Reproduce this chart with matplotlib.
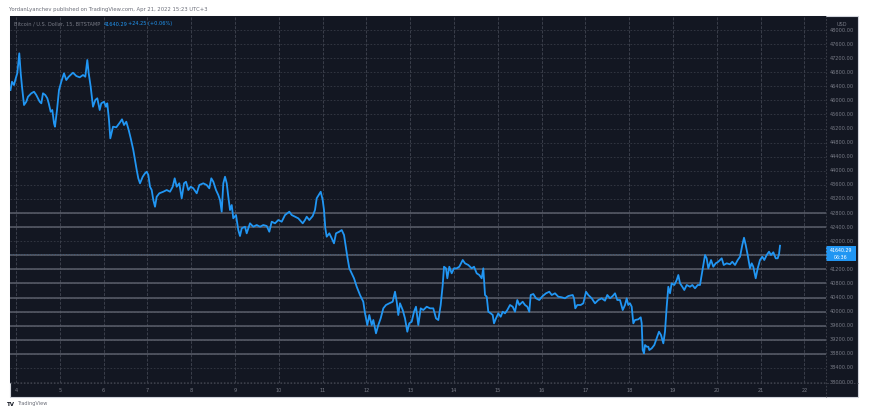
import matplotlib.pyplot as plt
from matplotlib.patches import Rectangle
from matplotlib.transforms import blended_transform_factory

# BTC/USD 15m, Bitstamp, Apr 3 - Apr 21 2022
days = [3.874, 3.909, 3.954, 3.984, 4.030, 4.075, 4.107, 4.137, 4.183, 4.235,
        4.274, 4.349, 4.411, 4.463, 4.541, 4.578, 4.616, 4.669, 4.715, 4.747,
        4.792, 4.829, 4.868, 4.890, 4.936, 4.982, 5.034, 5.096, 5.148, 5.203,
        5.301, 5.377, 5.454, 5.530, 5.582, 5.628, 5.660, 5.705, 5.758, 5.811,
        5.856, 5.911, 5.947, 6.009, 6.055, 6.084, 6.123, 6.153, 6.215, 6.290,
        6.368, 6.420, 6.466, 6.518, 6.573, 6.619, 6.678, 6.717, 6.756, 6.792,
        6.831, 6.893, 6.945, 6.984, 7.021, 7.059, 7.098, 7.135, 7.174, 7.212,
        7.272, 7.363, 7.441, 7.516, 7.578, 7.623, 7.669, 7.728, 7.783, 7.836,
        7.881, 7.934, 7.989, 8.048, 8.126, 8.185, 8.276, 8.354, 8.413, 8.459,
        8.505, 8.566, 8.619, 8.658, 8.696, 8.733, 8.772, 8.811, 8.847, 8.886,
        8.925, 8.961, 9.023, 9.075, 9.114, 9.153, 9.228, 9.267, 9.342, 9.418,
        9.495, 9.571, 9.646, 9.724, 9.783, 9.838, 9.913, 9.989, 10.066, 10.142,
        10.240, 10.295, 10.370, 10.445, 10.546, 10.598, 10.637, 10.696, 10.774, 10.826,
        10.865, 10.957, 11.002, 11.032, 11.062, 11.094, 11.153, 11.208, 11.260, 11.306,
        11.381, 11.436, 11.489, 11.534, 11.564, 11.610, 11.664, 11.717, 11.779, 11.854,
        11.929, 11.968, 12.021, 12.066, 12.121, 12.158, 12.219, 12.272, 12.326, 12.386,
        12.447, 12.523, 12.600, 12.653, 12.692, 12.728, 12.767, 12.829, 12.881, 12.934,
        12.979, 13.034, 13.087, 13.132, 13.185, 13.240, 13.299, 13.377, 13.452, 13.527,
        13.589, 13.642, 13.696, 13.742, 13.772, 13.817, 13.847, 13.893, 13.947, 14.000,
        14.062, 14.121, 14.199, 14.251, 14.327, 14.404, 14.457, 14.518, 14.578, 14.632,
        14.669, 14.708, 14.747, 14.783, 14.838, 14.884, 14.913, 14.959, 15.011, 15.066,
        15.112, 15.164, 15.217, 15.279, 15.340, 15.393, 15.445, 15.491, 15.568, 15.621,
        15.674, 15.719, 15.751, 15.811, 15.872, 15.947, 16.025, 16.100, 16.176, 16.231,
        16.306, 16.381, 16.459, 16.534, 16.610, 16.710, 16.740, 16.769, 16.815, 16.893,
        16.952, 17.014, 17.066, 17.144, 17.219, 17.295, 17.372, 17.447, 17.500, 17.562,
        17.623, 17.676, 17.728, 17.790, 17.852, 17.904, 17.943, 17.979, 18.018, 18.057,
        18.094, 18.132, 18.208, 18.263, 18.285, 18.308, 18.338, 18.361, 18.400, 18.436,
        18.459, 18.514, 18.573, 18.628, 18.680, 18.726, 18.779, 18.817, 18.856, 18.893,
        18.932, 18.970, 19.030, 19.085, 19.121, 19.160, 19.212, 19.258, 19.313, 19.388,
        19.441, 19.502, 19.564, 19.616, 19.655, 19.692, 19.731, 19.769, 19.806, 19.868,
        19.920, 19.975, 20.034, 20.112, 20.158, 20.226, 20.301, 20.354, 20.416, 20.477,
        20.530, 20.582, 20.621, 20.660, 20.705, 20.758, 20.797, 20.833, 20.888, 20.934,
        20.986, 21.039, 21.084, 21.139, 21.192, 21.237, 21.290, 21.345, 21.390, 21.420,
        21.443]
prices = [46295, 46531, 46437, 46579, 46778, 47338, 46778, 46389, 45869, 45963,
          46105, 46202, 46247, 46153, 45963, 45918, 46202, 46153, 46060, 45918,
          45679, 45727, 45349, 45253, 45727, 46295, 46531, 46770, 46579, 46673,
          46787, 46693, 46656, 46722, 46673, 47148, 46770, 46389, 45821, 46011,
          46060, 45727, 45918, 45963, 45821, 45918, 45443, 44923, 45253, 45236,
          45366, 45463, 45301, 45395, 45159, 44923, 44591, 44307, 44023, 43787,
          43645, 43832, 43929, 43974, 43881, 43548, 43454, 43170, 42980, 43264,
          43361, 43406, 43454, 43406, 43548, 43787, 43548, 43645, 43219, 43645,
          43690, 43454, 43548, 43503, 43361, 43596, 43645, 43596, 43503, 43787,
          43690, 43454, 43312, 43170, 42838, 43645, 43832, 43645, 43264, 42886,
          43028, 42650, 42744, 42318, 42148, 42366, 42412, 42224, 42508, 42412,
          42460, 42412, 42460, 42432, 42270, 42554, 42508, 42602, 42554, 42744,
          42838, 42744, 42696, 42650, 42508, 42602, 42696, 42602, 42716, 42886,
          43219, 43406, 43170, 42886, 42366, 42128, 42224, 42082, 41940, 42224,
          42270, 42318, 42176, 41798, 41560, 41230, 41088, 40946, 40707, 40472,
          40281, 39951, 39619, 39903, 39619, 39761, 39383, 39619, 39809, 40093,
          40188, 40236, 40281, 40565, 40281, 39903, 40236, 40045, 39809, 39429,
          39667, 39713, 39997, 40139, 39619, 40093, 40045, 40139, 40093, 40093,
          39809, 39761, 40188, 40756, 41275, 41230, 40946, 41275, 41088, 41230,
          41230, 41275, 41466, 41372, 41324, 41230, 41275, 41088, 41040, 40946,
          41230, 40472, 40423, 39997, 39951, 39903, 39667, 39809, 39951, 39855,
          39997, 39951, 40045, 40188, 40139, 39997, 40330, 40188, 40281, 40188,
          40139, 39997, 40472, 40500, 40378, 40330, 40443, 40520, 40565, 40472,
          40520, 40423, 40406, 40378, 40443, 40472, 40378, 40093, 40188, 40188,
          40236, 40565, 40472, 40378, 40236, 40330, 40378, 40310, 40472, 40378,
          40443, 40520, 40330, 40330, 40045, 40188, 40378, 40188, 40236, 40139,
          39667, 39761, 39781, 39838, 39667, 38909, 38815, 39051, 39003, 39003,
          38909, 38957, 39051, 39241, 39429, 39335, 39099, 39429, 40139, 40707,
          40520, 40804, 40756, 40898, 41040, 40804, 40707, 40614, 40756, 40707,
          40756, 40662, 40756, 40756, 41040, 41324, 41608, 41514, 41230, 41466,
          41275, 41372, 41417, 41514, 41324, 41372, 41344, 41417, 41324, 41466,
          41560, 41892, 42099, 41892, 41608, 41230, 41372, 41275, 40946, 41230,
          41466, 41560, 41466, 41608, 41702, 41608, 41685, 41514, 41514, 41628,
          41872]

price_ticks = list(range(38000, 48001, 400))
drawn_levels = [42800, 42400, 41600, 41200, 40800, 40400, 40000, 39600, 39200, 38800]
day_ticks = list(range(4, 23))
last_price = 41640.29
change = "+24.25 (+0.06%)"
countdown = "06:36"

bg = '#131722'
blue = '#2196f3'
txt = '#787b86'
grid = '#363a45'

fig = plt.figure(figsize=(8.71, 4.08), dpi=100)
fig.patch.set_facecolor('white')

# dark frame incl. price and date scales
fig.patches.append(Rectangle((10/871, 11/408), 848/871, 381/408, transform=fig.transFigure,
                             facecolor=bg, edgecolor='#d1d4dc', lw=0.8, zorder=-10))

ax = fig.add_axes([10/871, 1-383/408, 816/871, 367/408])
ax.set_facecolor(bg)
for s in ax.spines.values():
    s.set_visible(False)
ax.set_xlim(3.863, 22.493)
ax.set_ylim(37972, 48398)
ax.set_xticks([])
ax.set_yticks([])

for p in price_ticks:
    ax.axhline(p, color=grid, lw=0.6, ls=(0, (2, 2)), zorder=1)
for d in day_ticks:
    ax.axvline(d, color='#3b3f4b', lw=0.7, ls=(0, (3, 1.5)), zorder=1)
for p in drawn_levels:
    ax.axhline(p, color='#5a5e6a', lw=1.1, zorder=2)

ax.plot(days, prices, color=blue, lw=1.3, zorder=4)
ax.axhline(last_price, color=blue, lw=0.5, ls=(0, (1, 3)), alpha=0.35, zorder=3)

# price scale
ty = blended_transform_factory(ax.transAxes, ax.transData)
fig.lines.append(plt.Line2D([826/871, 826/871], [11/408, 392/408], transform=fig.transFigure,
                            color='#434651', lw=0.6, ls=(0, (2, 2))))
fig.lines.append(plt.Line2D([10/871, 858/871], [25/408, 25/408], transform=fig.transFigure,
                            color='#434651', lw=0.6, ls=(0, (2, 2))))
for p in price_ticks:
    if abs(p - last_price) < 250:
        continue
    ax.text(1.0196, p, "%.2f" % p, transform=ty, ha='center', va='center',
            fontsize=3.6, color=txt, clip_on=False)
fig.text(842/871, 1-24/408, "USD", ha='center', va='center', fontsize=3.6, color=txt)

ax.add_patch(Rectangle((1.0, last_price - 213), 30/816, 426, transform=ty,
                       facecolor=blue, edgecolor='none', clip_on=False, zorder=6))
ax.text(1.0184, last_price + 90, "%.2f" % last_price, transform=ty, ha='center', va='center',
        fontsize=3.4, color='white', clip_on=False, zorder=7)
ax.text(1.0184, last_price - 110, countdown, transform=ty, ha='center', va='center',
        fontsize=3.4, color='white', clip_on=False, zorder=7)

# date scale
tx = blended_transform_factory(ax.transData, ax.transAxes)
for d in day_ticks:
    ax.text(d, -0.02, str(d), transform=tx, ha='center', va='center',
            fontsize=3.6, color=txt, clip_on=False)

# header and footer
fig.text(9/871, 1-10/408, "YordanLyanchev published on TradingView.com, Apr 21, 2022 15:23 UTC+3",
         ha='left', va='center', fontsize=3.8, color='#6a6d78')
fig.text(14/871, 1-24/408, "Bitcoin / U.S. Dollar, 15, BITSTAMP", ha='left', va='center',
         fontsize=3.6, color=txt)
fig.text(104/871, 1-24/408, "%.2f" % last_price, ha='left', va='center', fontsize=3.6, color=blue)
fig.text(128/871, 1-24/408, change, ha='left', va='center', fontsize=3.6, color=blue)
fig.text(7/871, 1-404/408, "TV", ha='left', va='center', fontsize=4, color='#131722',
         fontweight='bold')
fig.text(17/871, 1-404/408, "TradingView", ha='left', va='center', fontsize=3.6, color='#6a6d78')

fig.savefig('out.png', dpi=100, facecolor='white')
